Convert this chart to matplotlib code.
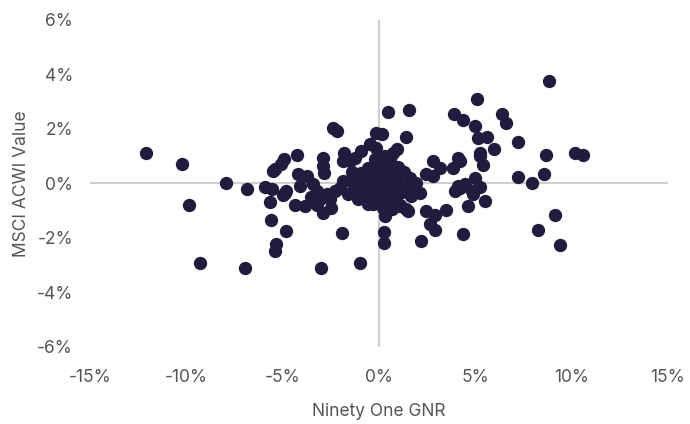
import matplotlib
matplotlib.use("Agg")
import matplotlib.pyplot as plt
from matplotlib.ticker import FuncFormatter

# Ninety One GNR (x, %) and MSCI ACWI Value (y, %)
gnr = [
    -12.1, -10.2, -7.95, -6.86, -9.84, -9.28, -6.95,
    -5.93, -5.56, -5.65, -5.57, -4.82, -5.31, -5.39, -5.39, -5.50, -4.91, -4.96,
    -4.22, -5.05, -4.18, -3.75, -4.10, -3.40, -3.23, -4.88, -4.79, -4.36, -3.84,
    -3.06, -2.88, -2.54, -2.28, -2.02, -2.92, -2.88, -2.83, -2.40, -2.19, -1.82,
    -1.88, -1.50, -0.90, -1.24, -1.85, -1.42, -1.16, -0.90, -1.07, -0.55, -1.93,
    -3.01, -0.98, -3.50, -3.20, -2.70, -2.50,
    -0.12, 0.14, 1.43, -0.47, -0.12, 0.95, 0.74, 0.48, 1.57, -0.55, 0.57, 0.40,
    0.31, 0.26, 0.26, 2.21, 1.52, 1.69, 2.13, 1.95, 1.61,
    -0.80, -0.60, -0.40, -0.20, 0.00, 0.20, 0.40, 0.60, 0.80, 1.00, 1.20, -0.30,
    0.10, 0.50, 0.90, 1.10, -0.70, -0.10, 0.30, -0.50, 0.70, -1.30, -1.00, -0.30,
    0.20, 0.70, 1.30, 1.00, -0.20, 0.30, 0.10, -1.60, -1.40, 0.00, 0.50, -0.90,
    1.40, 0.85, -0.45, 0.35,
    5.07, 8.83, 3.89, 4.37, 5.01, 6.40, 6.62, 5.15, 5.59, 5.96, 7.23, 5.24, 5.27,
    5.41, 8.66, 10.17, 10.60, 7.23, 7.95, 8.59, 4.20, 4.46, 4.98, 5.24, 4.81, 4.89,
    4.63, 5.51, 4.37, 9.13, 8.26, 9.39,
    2.82, 3.16, 2.47, 2.82, 4.12, 3.86, 4.12, 3.94, 2.47, 2.90, 3.51, 2.64, 2.90,
    1.52, 1.09, 1.43, 4.20,
]
acwi_value = [
    1.10, 0.72, 0.01, -0.20, -0.80, -2.93, -3.12,
    -0.15, -0.22, -0.68, -1.34, -1.75, -2.21, -2.50, 0.51, 0.45, 0.90, -0.44,
    1.04, 0.70, 0.33, 0.27, -0.10, -0.04, -0.28, -0.34, -0.28, -0.81, -0.83,
    -0.59, -1.07, -0.59, -0.28, -0.16, 0.94, 0.63, 0.39, 2.04, 1.92, 1.12,
    0.82, 0.82, 1.18, 0.94, 0.08, 0.08, 0.27, 0.39, -0.59, -0.77, -1.81,
    -3.12, -2.91, -0.50, -0.80, -0.40, -0.90,
    1.86, 1.83, 1.70, 1.43, 1.31, 1.25, 1.10, 2.61, 2.71, 0.57, 0.88, 0.63,
    -1.20, -1.77, -2.20, -2.11, -0.22, -0.46, -0.34, 0.03, 0.21,
    0.10, -0.10, 0.20, 0.00, 0.30, -0.10, 0.10, -0.20, 0.30, 0.00, -0.30, -0.40,
    -0.50, -0.60, -0.50, -0.80, -0.30, 0.60, 0.45, 0.45, 0.55, -0.15, -0.35, -0.75,
    -0.90, -0.95, 0.40, 0.60, 0.90, 1.00, 0.75, -0.40, 0.40, -0.25, 0.20, -0.10,
    -0.10, 0.05, -0.55, -0.35,
    3.10, 3.74, 2.53, 2.32, 2.12, 2.53, 2.22, 1.65, 1.71, 1.28, 1.53, 1.10, 1.00,
    0.68, 1.05, 1.10, 1.04, 0.23, 0.00, 0.33, 0.82, -0.04, 0.21, -0.12, -0.28, -0.40,
    -0.83, -0.65, -1.84, -1.15, -1.72, -2.27,
    0.82, 0.57, 0.33, 0.27, 0.94, 0.57, -0.10, -0.28, -1.01, -1.17, -0.98, -1.50, -1.71,
    -1.01, -0.83, -0.95, -0.16,
]
x_ticks = [-15, -10, -5, 0, 5, 10, 15]
y_ticks = [-6, -4, -2, 0, 2, 4, 6]

plt.rcParams['font.family'] = ['Inter', 'DejaVu Sans']
fig = plt.figure(figsize=(6.9, 4.24), dpi=100)
ax = fig.add_axes([0.130, 0.182, 0.838, 0.771])

ax.axhline(0, color='#d0d0d0', lw=1.5, zorder=1)
ax.axvline(0, color='#d0d0d0', lw=1.5, zorder=1)
ax.scatter(gnr, acwi_value, s=92, color='#231b3d', zorder=3, linewidths=0)

ax.set_xlim(-15, 15)
ax.set_ylim(-6, 6)
ax.set_xticks(x_ticks)
ax.set_yticks(y_ticks)
fmt = FuncFormatter(lambda v, p: f"{v:.0f}%")
ax.xaxis.set_major_formatter(fmt)
ax.yaxis.set_major_formatter(fmt)
for s in ax.spines.values():
    s.set_visible(False)
ax.tick_params(axis='both', length=0, labelsize=12.5, labelcolor='#555555')
ax.tick_params(axis='x', pad=16)
ax.tick_params(axis='y', pad=12)
ax.set_xlabel('Ninety One GNR', fontsize=12.5, color='#555555', labelpad=12)
ax.set_ylabel('MSCI ACWI Value', fontsize=12.5, color='#555555', labelpad=5)

fig.savefig('out.png', dpi=100)
